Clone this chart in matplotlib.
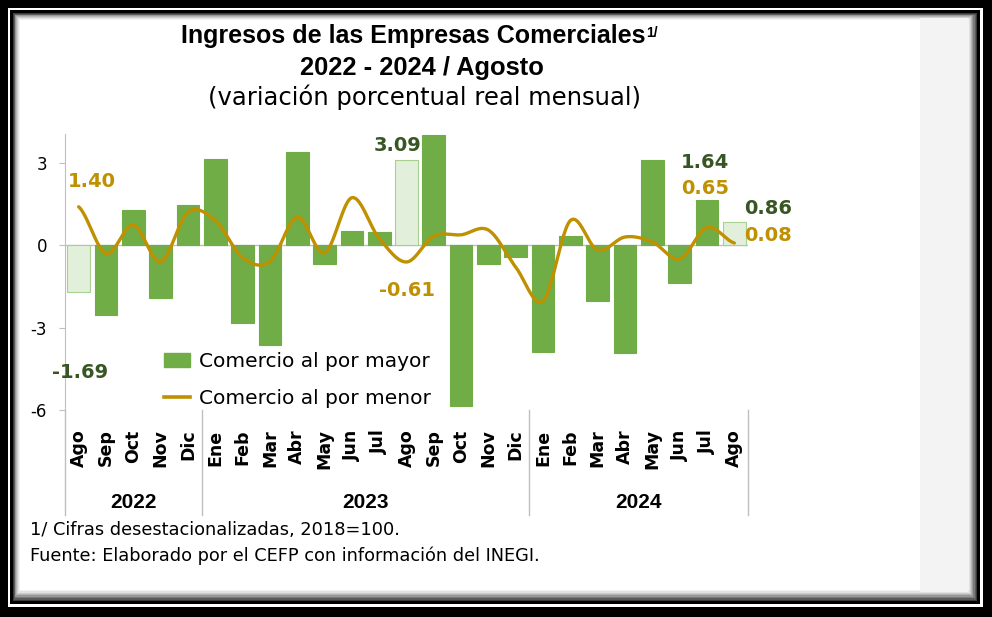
import matplotlib.pyplot as plt
import numpy as np
from matplotlib.patches import Rectangle, Patch
from matplotlib.lines import Line2D
import matplotlib.transforms as mtransforms

# datos: variacion porcentual real mensual
meses = ['Ago', 'Sep', 'Oct', 'Nov', 'Dic',
         'Ene', 'Feb', 'Mar', 'Abr', 'May', 'Jun', 'Jul', 'Ago', 'Sep', 'Oct', 'Nov', 'Dic',
         'Ene', 'Feb', 'Mar', 'Abr', 'May', 'Jun', 'Jul', 'Ago']
anios = ['2022', '2023', '2024']
meses_por_anio = [5, 12, 8]
mayor = [-1.69, -2.55, 1.30, -1.92, 1.46, 3.14, -2.83, -3.63, 3.41, -0.70, 0.52, 0.49,
         3.09, 4.00, -5.86, -0.70, -0.44, -3.87, 0.34, -2.02, -3.94, 3.11, -1.36, 1.64, 0.86]
menor = [1.40, -0.30, 0.73, -0.60, 1.20, 0.90, -0.45, -0.60, 1.02, -0.28, 1.73, 0.25,
         -0.61, 0.33, 0.38, 0.55, -0.80, -2.03, 0.90, -0.18, 0.30, 0.12, -0.50, 0.65, 0.08]
agostos = [0, 12, 24]

VERDE = '#70AD47'
VERDE_CLARO = '#E2EFDA'
VERDE_OSC = '#375623'
ORO = '#BF9000'
GRIS = '#BFBFBF'
W, H = 992, 617
ARIAL = ['Liberation Sans', 'DejaVu Sans']


def caja(x0, y0, x1, y1, color, z=-10):
    # rectangulo en pixeles de la figura (origen arriba a la izquierda)
    r = Rectangle((x0 / W, 1 - y1 / H), (x1 - x0) / W, (y1 - y0) / H,
                  transform=fig.transFigure, facecolor=color, edgecolor='none', zorder=z)
    fig.patches.append(r)


def suavizar(y, n=25):
    # curva suavizada tipo Excel (bezier / catmull-rom)
    p = np.array(y, float)
    xs, ys = [], []
    t = np.linspace(0, 1, n)
    for i in range(len(p) - 1):
        p0 = p[i - 1] if i > 0 else p[i]
        p3 = p[i + 2] if i + 2 < len(p) else p[i + 1]
        c1 = p[i] + (p[i + 1] - p0) / 6
        c2 = p[i + 1] - (p3 - p[i]) / 6
        yy = (1 - t)**3 * p[i] + 3 * (1 - t)**2 * t * c1 + 3 * (1 - t) * t**2 * c2 + t**3 * p[i + 1]
        xs.extend(i + t)
        ys.extend(yy)
    return np.array(xs), np.array(ys)


fig = plt.figure(figsize=(W / 100, H / 100), dpi=100)
fig.patch.set_facecolor('black')

# marco
caja(8, 8, 983, 607, 'white')
caja(10, 10, 980, 604, 'black')
sombra = ['#3a3a3a', '#5a5a5a', '#7a7a7a', '#989898', '#b4b4b4', '#cdcdcd', '#e2e2e2', '#f2f2f2']
for k, c in enumerate(sombra):
    caja(13 + k * 0.8, 13 + k * 0.8, 977 - k * 1.2, 601 - k * 1.4, c)
caja(20, 20, 968, 590, 'white')
caja(920, 18, 968, 592, '#F3F3F3')

ax = fig.add_axes([65 / W, 1 - 410 / H, (748 - 65) / W, (410 - 134) / H])
ax.set_facecolor('none')
x = np.arange(len(meses))

colores = [VERDE_CLARO if i in agostos else VERDE for i in x]
bordes = ['#A9D08E' if i in agostos else VERDE for i in x]
ax.bar(x, mayor, width=0.83, color=colores, edgecolor=bordes, linewidth=0.8, zorder=2)
xs, ys = suavizar(menor)
ax.plot(xs, ys, color=ORO, linewidth=2.4, zorder=3, solid_capstyle='round')
ax.axhline(0, color=GRIS, linewidth=1, zorder=1)

ax.set_xlim(-0.5, len(meses) - 0.5)
ax.set_ylim(-6, 4.05)
ax.set_yticks([-6, -3, 0, 3])
ax.set_yticklabels(['-6', '-3', '0', '3'], fontsize=12)
ax.tick_params(axis='y', length=4, color=GRIS, pad=9)
ax.set_xticks(x)
ax.set_xticklabels(meses, rotation=90, fontsize=12.5, fontweight='bold', va='top')
ax.tick_params(axis='x', length=0, pad=14)
for s in ['top', 'right', 'bottom']:
    ax.spines[s].set_visible(False)
ax.spines['left'].set_color(GRIS)

# eje de categorias de dos niveles
fondo = -(515 - 410) / (410 - 134)
ax.plot([0, 0], [0, fondo], transform=ax.transAxes, color=GRIS, lw=1, clip_on=False)
mezcla = mtransforms.blended_transform_factory(ax.transData, ax.transAxes)
inicio = -0.5
for anio, n in zip(anios, meses_por_anio):
    fin = inicio + n
    ax.plot([fin, fin], [0, fondo], transform=mezcla, color=GRIS, lw=1, clip_on=False)
    ax.text((inicio + fin) / 2, -(503 - 410) / (410 - 134), anio, transform=mezcla,
            ha='center', va='center', fontsize=15, fontweight='bold', family=ARIAL)
    inicio = fin

# etiquetas de datos
etq = dict(textcoords='offset pixels', ha='center', va='center', fontsize=14, fontweight='bold')
ax.annotate('1.40', (0, menor[0]), xytext=(13, 25), color=ORO, **etq)
ax.annotate('-1.69', (0, mayor[0]), xytext=(1, -81), color=VERDE_OSC, **etq)
ax.annotate('3.09', (12, mayor[12]), xytext=(-9, 15), color=VERDE_OSC, **etq)
ax.annotate('-0.61', (12, menor[12]), xytext=(1, -29), color=ORO, **etq)
ax.annotate('1.64', (23, mayor[23]), xytext=(-2, 38), color=VERDE_OSC, **etq)
ax.annotate('0.65', (23, menor[23]), xytext=(-2, 39), color=ORO, **etq)
ax.annotate('0.86', (24, mayor[24]), xytext=(34, 13), color=VERDE_OSC, **etq)
ax.annotate('0.08', (24, menor[24]), xytext=(34, 8), color=ORO, **etq)

manejadores = [Patch(facecolor=VERDE, edgecolor=VERDE),
               Line2D([0], [0], color=ORO, lw=2.6)]
fig.legend(manejadores, ['Comercio al por mayor', 'Comercio al por menor'],
           loc='upper left', bbox_to_anchor=(146 / W, 1 - 334 / H), frameon=False,
           fontsize=14.5, handlelength=1.3, handletextpad=0.45, labelspacing=0.9)

# titulo
t1 = fig.text(413 / W, 1 - 36 / H, 'Ingresos de las Empresas Comerciales', ha='center', va='center',
              fontsize=18, fontweight='bold', family=ARIAL)
fig.text(422 / W, 1 - 68 / H, '2022 - 2024 / Agosto', ha='center', va='center',
         fontsize=18.4, fontweight='bold', family=ARIAL)
ax.annotate('1/', xy=(1, 1), xycoords=t1, xytext=(1, -2), textcoords='offset pixels',
            ha='left', va='top', fontsize=10, fontweight='bold', family=ARIAL)
fig.text(425 / W, 1 - 97 / H, '(variación porcentual real mensual)', ha='center', va='center',
         fontsize=17.5)

# notas
fig.text(30 / W, 1 - 530 / H, '1/ Cifras desestacionalizadas, 2018=100.', ha='left', va='center',
         fontsize=12.8)
fig.text(30 / W, 1 - 556 / H, 'Fuente: Elaborado por el CEFP con información del INEGI.',
         ha='left', va='center', fontsize=12.8)

plt.savefig('out.png', dpi=100, facecolor=fig.get_facecolor())
